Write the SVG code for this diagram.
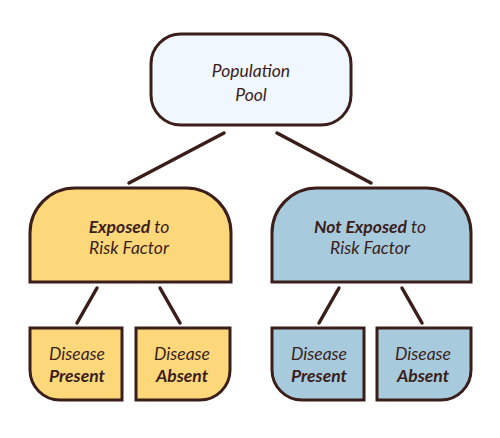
<svg xmlns="http://www.w3.org/2000/svg" width="500" height="438" viewBox="0 0 500 438">
<style>
.box{stroke:#3b1e1a;stroke-width:3;}
.y{fill:#fdd87a;}
.b{fill:#a7cadc;}
.t{font-family:Lato,"Liberation Sans",sans-serif;font-style:italic;font-size:17.5px;fill:#3b1e1a;text-anchor:middle;}
.bd{font-weight:bold;}
.c{stroke:#3b1e1a;stroke-width:3.5;stroke-linecap:round;fill:none;}
</style>
<rect width="500" height="438" fill="#ffffff"/>
<g id="connectors">
<line class="c" x1="224" y1="133" x2="129" y2="183"/>
<line class="c" x1="277" y1="133" x2="371" y2="183"/>
<line class="c" x1="97" y1="288" x2="77" y2="323"/>
<line class="c" x1="160" y1="288" x2="180" y2="323"/>
<line class="c" x1="339" y1="288" x2="319" y2="323"/>
<line class="c" x1="402" y1="288" x2="422" y2="323"/>
</g>
<g id="population">
<rect class="box" x="151" y="34" width="200" height="91" rx="30" ry="30" fill="#f0f7fe"/>
<text class="t" x="251" y="77">Population</text>
<text class="t" x="251" y="101">Pool</text>
</g>
<g id="exposed">
<path class="box y" d="M30,282 V233 A45,45 0 0 1 75,188 H186 A45,45 0 0 1 231,233 V282 Z"/>
<text class="t" x="129" y="233"><tspan class="bd">Exposed</tspan> to</text>
<text class="t" x="129" y="254">Risk Factor</text>
</g>
<g id="notexposed">
<path class="box b" d="M272,282 V233 A45,45 0 0 1 317,188 H426 A45,45 0 0 1 471,233 V282 Z"/>
<text class="t" x="370" y="233"><tspan class="bd">Not Exposed</tspan> to</text>
<text class="t" x="370" y="254">Risk Factor</text>
</g>
<g id="exp-present">
<path class="box y" d="M30,328 H122 V400 H60 A30,30 0 0 1 30,370 Z"/>
<text class="t" x="77" y="360">Disease</text>
<text class="t bd" x="77" y="382">Present</text>
</g>
<g id="exp-absent">
<path class="box y" d="M136,328 H230 V370 A30,30 0 0 1 200,400 H136 Z"/>
<text class="t" x="182" y="360">Disease</text>
<text class="t bd" x="182" y="382">Absent</text>
</g>
<g id="notexp-present">
<path class="box b" d="M272,328 H364 V400 H302 A30,30 0 0 1 272,370 Z"/>
<text class="t" x="319" y="360">Disease</text>
<text class="t bd" x="319" y="382">Present</text>
</g>
<g id="notexp-absent">
<path class="box b" d="M377,328 H471 V370 A30,30 0 0 1 441,400 H377 Z"/>
<text class="t" x="423" y="360">Disease</text>
<text class="t bd" x="423" y="382">Absent</text>
</g>
</svg>
